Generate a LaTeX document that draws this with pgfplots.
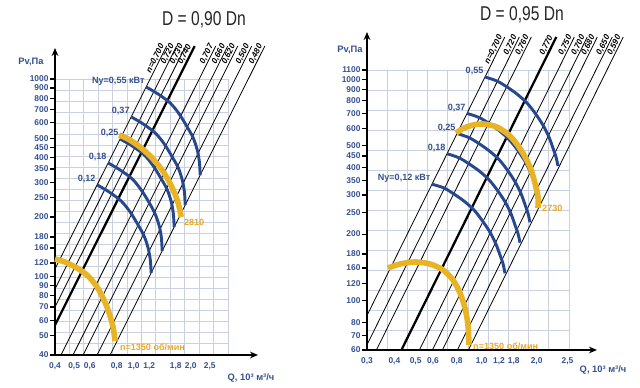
\documentclass[border=0pt]{standalone}
\usepackage{pgfplots}
\pgfplotsset{compat=1.18}
\usepackage{fontspec}
\setmainfont{Liberation Sans}
\newfontfamily\condfont[FakeStretch=0.78]{Liberation Sans}
\usetikzlibrary{arrows.meta}
\definecolor{tickblue}{HTML}{34508E}
\definecolor{arcblue}{HTML}{27488F}
\definecolor{fanyel}{HTML}{E8B425}
\definecolor{fanorg}{HTML}{E8A82A}
\definecolor{gridc}{HTML}{C9D0DF}
\pgfplotsset{
  nomo/.style={
    scale only axis, clip=false,
    axis x line=bottom, axis y line=left,
    axis line style={line width=1.3pt},
    tick align=outside, major tick length=3.5pt, minor tick length=0pt,
    xtick style={draw=none}, ytick style={black, line width=0.9pt},
    xminorgrids=true, yminorgrids=true, xmajorgrids=false, ymajorgrids=false,
    minor grid style={gridc, line width=0.7pt},
    ticklabel style={font=\bfseries\fontsize{6.3}{7}\selectfont, text=tickblue},
    yticklabel style={inner sep=1.2pt},
    xticklabel style={inner sep=2pt},
  },
}
\tikzset{
  etaline/.style={black, line width=0.6pt},
  etabold/.style={black, line width=1.7pt},
  powarc/.style={arcblue, line width=2.2pt, smooth},
  fanc/.style={fanyel, line width=4.2pt, smooth},
  etalab/.style={pos=1, sloped, anchor=south east, inner sep=0.4pt, font=\bfseries\itshape\fontsize{6.2}{6.5}\selectfont},
  arclab/.style={anchor=south east, inner sep=1pt, text=tickblue, font=\bfseries\fontsize{6.8}{7}\selectfont},
  fanlab/.style={anchor=west, inner sep=1pt, text=fanorg, font=\bfseries\fontsize{6.8}{7}\selectfont},
}
\begin{document}
\begin{tikzpicture}[x=0.75pt,y=-0.75pt]
\useasboundingbox (0,0) rectangle (640,388);
% ---------------- left chart ----------------
\node[font=\condfont\fontsize{15}{16}\selectfont, text=black!85] at (204,20) {D = 0,90 Dn};
\node[font=\bfseries\fontsize{7}{8}\selectfont, text=tickblue] at (31,62) {Pv,Па};
\node[anchor=east, font=\bfseries\fontsize{7}{8}\selectfont, text=tickblue] at (279,378) {Q, 10³ м³/ч};
\begin{axis}[nomo, xmode=log, ymode=log,
  at={(41.25pt,-266.25pt)}, anchor=south west, width=129.75pt, height=207pt,
  xmin=0.4, xmax=3.0, ymin=40, ymax=1000,
  x axis line style={-{Stealth[length=6pt,width=5pt]}, shorten >=-22.5pt},
  y axis line style={-{Stealth[length=6pt,width=5pt]}, shorten >=-23.25pt},
  xtick={0.4,0.5,0.6,0.82,1.0,1.2,1.632,1.945,2.427},
  xticklabels={{0,4},{0,5},{0,6},{0,8},{1,0},{1,2},{1,8},{2,0},{2,5}},
  ytick={40,50,60,70,80,90,100,116.9,139.3,158.4,200,250,300,350,400,450,500,600,700,800,900,1000},
  yticklabels={40,50,60,70,80,90,100,120,160,180,200,250,300,350,400,450,500,600,700,800,900,1000},
  minor xtick={0.4731,0.5596,0.6619,0.7829,0.9260,1.0953,1.2955,1.5323,1.8124,2.1437,2.5356,2.999},
  minor ytick={45.5,51.8,58.9,67.0,76.2,86.6,98.5,112.1,127.5,145.0,164.9,187.6,213.3,242.6,276.0,313.9,357.0,406.1,461.9,525.3,597.5,679.6,773.0,879.2,999.9},
]
\addplot[etaline] coordinates {(0.4,109.0) (1.468,1469)} node[etalab] {n=0,700};
\addplot[etaline] coordinates {(0.4,86.36) (1.650,1469)} node[etalab] {0,720};
\addplot[etaline] coordinates {(0.4,69.99) (1.833,1469)} node[etalab] {0,730};
\addplot[etabold] coordinates {(0.4,56.69) (2.036,1469)} node[etalab] {0,740};
\addplot[etaline] coordinates {(0.429,40) (2.600,1469)} node[etalab] {0,707};
\addplot[etaline] coordinates {(0.4936,40) (2.991,1469)} node[etalab] {0,660};
\addplot[etaline] coordinates {(0.5548,40) (3.362,1469)} node[etalab] {0,620};
\addplot[etaline] coordinates {(0.6530,40) (3.957,1469)} node[etalab] {0,500};
\addplot[etaline] coordinates {(0.760,40) (4.606,1469)} node[etalab] {0,480};
% power arcs
\addplot[powarc] coordinates {(1.156,911) (1.330,839) (1.530,756) (1.700,665) (1.866,571) (2.001,503) (2.097,437) (2.15,380) (2.17,326)};
\addplot[powarc] coordinates {(0.971,643) (1.117,592) (1.285,533) (1.428,469) (1.567,403) (1.681,355) (1.761,308) (1.806,268) (1.823,230)};
\addplot[powarc] coordinates {(0.854,497) (0.983,458) (1.130,413) (1.256,363) (1.379,312) (1.478,275) (1.549,239) (1.588,207) (1.603,178)};
\addplot[powarc] coordinates {(0.7425,376) (0.854,346) (0.983,312) (1.092,274) (1.199,236) (1.285,207) (1.347,180) (1.381,157) (1.394,134.5)};
\addplot[powarc] coordinates {(0.653,291) (0.751,268) (0.864,241) (0.960,212) (1.054,182) (1.130,160) (1.184,139) (1.214,121) (1.226,104)};
% fan curves
\addplot[fanc] coordinates {(0.844,520) (0.937,497) (1.078,452) (1.212,407) (1.346,362) (1.477,315) (1.585,274) (1.680,235) (1.739,200)};
\addplot[fanc] coordinates {(0.400,122.5) (0.4496,118.3) (0.5171,110.3) (0.5879,100.5) (0.6529,88.4) (0.7084,75.9) (0.7512,65.3) (0.7868,55.4) (0.8054,47.1)};
\node[arclab] at (1.156,911) {Ny=0,55 кВт};
\node[arclab] at (0.971,643) {0,37};
\node[arclab] at (0.854,497) {0,25};
\node[arclab] at (0.7425,376) {0,18};
\node[arclab] at (0.653,291) {0,12};
\node[fanlab, yshift=-4pt, xshift=1pt] at (1.739,200) {2810};
\node[fanlab, yshift=-4.5pt, xshift=2.5pt] at (0.8054,47.1) {n=1350 об/мин};
\end{axis}
% ---------------- right chart ----------------
\node[font=\condfont\fontsize{15}{16}\selectfont, text=black!85] at (522,15) {D = 0,95 Dn};
\node[font=\bfseries\fontsize{7}{8}\selectfont, text=tickblue] at (350,50) {Pv,Па};
\node[anchor=east, font=\bfseries\fontsize{7}{8}\selectfont, text=tickblue] at (631,370) {Q, 10³ м³/ч};
\begin{axis}[nomo, xmode=log, ymode=log,
  at={(275.25pt,-262.5pt)}, anchor=south west, width=151.5pt, height=210pt,
  xmin=0.3, xmax=2.5, ymin=60, ymax=1100,
  x axis line style={-{Stealth[length=6pt,width=5pt]}, shorten >=-21pt},
  y axis line style={-{Stealth[length=6pt,width=5pt]}, shorten >=-28.5pt},
  xtick={0.3,0.4,0.5,0.6,0.77,1.0,1.2,1.40,1.78,2.46},
  xticklabels={{0,3},{0,4},{0,5},{0,6},{0,8},{1,0},{1,2},{1,8},{2,0},{2,5}},
  ytick={60,70,80,100,120,140.6,162.6,200,250,300,350,400,450,500,600,700,800,900,1000,1100},
  yticklabels={60,70,80,100,120,160,180,200,250,300,350,400,450,500,600,700,800,900,1000,1100},
  minor xtick={0.37086,0.45846,0.56675,0.70062,0.86611,1.07069,1.32360,1.63624,2.02272,2.4999},
  minor ytick={73.85,90.91,111.9,137.7,169.5,208.7,256.9,316.2,389.2,479.1,589.7,725.9,893.6,1099.9},
]
\addplot[etaline] coordinates {(0.3,85.86) (1.2746,1550)} node[etalab] {n=0,700};
\addplot[etaline] coordinates {(0.3,63.3) (1.4843,1550)} node[etalab] {0,720};
\addplot[etaline] coordinates {(0.3312,60) (1.6833,1550)} node[etalab] {0,760};
\addplot[etabold] coordinates {(0.4306,60) (2.1884,1550)} node[etalab] {0,770};
\addplot[etaline] coordinates {(0.5201,60) (2.6433,1550)} node[etalab] {0,750};
\addplot[etaline] coordinates {(0.5960,60) (3.029,1550)} node[etalab] {0,700};
\addplot[etaline] coordinates {(0.6620,60) (3.365,1550)} node[etalab] {0,680};
\addplot[etaline] coordinates {(0.7749,60) (3.938,1550)} node[etalab] {0,650};
\addplot[etaline] coordinates {(0.8697,60) (4.420,1550)} node[etalab] {0,590};
% power arcs
\addplot[powarc] coordinates {(1.035,1023) (1.174,981) (1.304,922) (1.448,857) (1.608,781) (1.749,704) (1.902,621) (2.026,548) (2.113,489) (2.181,446) (2.227,406)};
\addplot[powarc] coordinates {(0.857,701) (0.972,672) (1.080,632) (1.199,587) (1.331,535) (1.448,483) (1.575,426) (1.677,376) (1.749,335) (1.806,306) (1.844,278)};
\addplot[powarc] coordinates {(0.772,569) (0.875,545) (0.972,512) (1.079,476) (1.199,434) (1.304,391) (1.418,345) (1.510,305) (1.575,272) (1.626,248) (1.660,226)};
\addplot[powarc] coordinates {(0.695,461) (0.788,442) (0.875,415) (0.972,386) (1.079,352) (1.174,317) (1.277,280) (1.360,247) (1.418,220) (1.464,201) (1.495,183)};
\addplot[powarc] coordinates {(0.593,336) (0.673,323) (0.748,303) (0.830,282) (0.922,257) (1.003,231) (1.091,204) (1.162,180) (1.212,161) (1.251,147) (1.277,133)};
% fan curves
\addplot[fanc] coordinates {(0.7636,571.6) (0.8302,602) (0.9124,621) (1.0134,628) (1.174,608) (1.346,554) (1.510,479) (1.660,402) (1.749,340) (1.805,294) (1.805,262)};
\addplot[fanc] coordinates {(0.3739,140.6) (0.4241,146.6) (0.4964,149.7) (0.5810,146.6) (0.6661,137.8) (0.7398,124.2) (0.7962,108.5) (0.8391,92.8) (0.8659,77.8) (0.8750,63.2)};
\node[arclab] at (1.035,1023) {0,55};
\node[arclab] at (0.857,701) {0,37};
\node[arclab] at (0.772,569) {0,25};
\node[arclab] at (0.695,461) {0,18};
\node[arclab] at (0.593,336) {Ny=0,12 кВт};
\node[fanlab, xshift=2pt] at (1.805,262) {2730};
\node[fanlab, yshift=-1pt, xshift=2pt] at (0.875,63.2) {n=1350 об/мин};
\end{axis}
\end{tikzpicture}
\end{document}
